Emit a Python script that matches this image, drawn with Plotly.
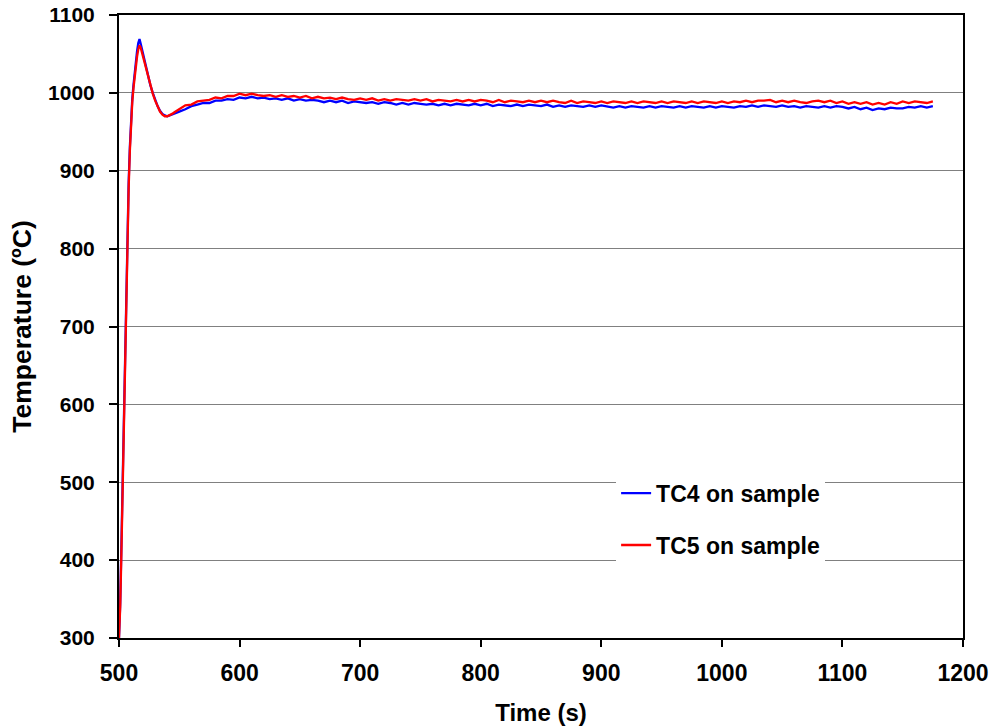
import plotly.graph_objects as go

time_s = [500, 501, 502, 503, 504, 505, 506, 507, 508, 509, 510, 511, 512, 513, 514, 515, 516, 517, 518, 519,
          520, 521, 522, 524, 526, 528, 530, 532, 534, 536, 538, 540, 542, 544, 546, 548, 550,
          555, 560, 565, 570, 575, 580, 585, 590, 595, 600, 605, 610, 615, 620, 625, 630, 635, 640, 645, 650,
          655, 660, 665, 670, 675, 680, 685, 690, 695, 700, 705, 710, 715, 720, 725, 730, 735, 740, 745, 750,
          755, 760, 765, 770, 775, 780, 785, 790, 795, 800, 805, 810, 815, 820, 825, 830, 835, 840, 845, 850,
          855, 860, 865, 870, 875, 880, 885, 890, 895, 900, 905, 910, 915, 920, 925, 930, 935, 940, 945, 950,
          955, 960, 965, 970, 975, 980, 985, 990, 995, 1000, 1005, 1010, 1015, 1020, 1025, 1030, 1035, 1040,
          1045, 1050, 1055, 1060, 1065, 1070, 1075, 1080, 1085, 1090, 1095, 1100, 1105, 1110, 1115, 1120,
          1125, 1130, 1135, 1140, 1145, 1150, 1155, 1160, 1165, 1170, 1175]

tc4 = [300, 345, 420, 500, 590, 680, 760, 830, 885, 930, 968, 992, 1010, 1026, 1041, 1054, 1064, 1069, 1063, 1056,
       1049, 1042, 1035, 1022, 1010, 1000, 991, 983, 977, 973, 971, 970, 971, 972, 973, 975, 976,
       979, 983, 985, 987, 987, 990, 990, 992, 991, 994, 993, 995, 993, 994, 992, 993, 991, 993, 990, 992,
       990, 991, 990, 988, 990, 988, 990, 987, 989, 988, 987, 988, 986, 988, 987, 985, 987, 985, 987, 986,
       985, 986, 984, 986, 984, 986, 985, 984, 986, 984, 986, 983, 985, 984, 983, 985, 983, 985, 984, 983,
       985, 982, 984, 982, 984, 983, 982, 984, 982, 984, 982, 981, 983, 981, 983, 982, 981, 983, 981, 983,
       982, 981, 983, 981, 983, 982, 981, 983, 981, 983, 982, 981, 983, 982, 984, 982, 984, 983,
       982, 984, 982, 983, 981, 983, 982, 981, 983, 981, 983, 982, 980, 982, 979, 981,
       978, 980, 979, 981, 980, 980, 982, 981, 983, 981, 983]

tc5 = [300, 340, 410, 490, 580, 670, 750, 820, 878, 925, 962, 988, 1006, 1021, 1035, 1047, 1056, 1061, 1058, 1052,
       1046, 1040, 1034, 1021, 1009, 999, 990, 982, 976, 972, 970, 970, 971, 973, 975, 977, 979,
       984, 985, 989, 990, 991, 994, 993, 996, 996, 999, 997, 999, 997, 996, 997, 995, 997, 995, 996, 994,
       996, 993, 995, 993, 994, 992, 994, 992, 991, 993, 991, 993, 990, 992, 990, 992, 991, 990, 992, 990,
       992, 989, 991, 990, 989, 991, 989, 991, 989, 991, 990, 988, 991, 988, 990, 989, 988, 990, 988, 990,
       988, 990, 988, 987, 990, 987, 989, 988, 987, 989, 987, 989, 988, 987, 989, 987, 989, 988, 987, 989,
       987, 989, 988, 987, 989, 987, 989, 988, 987, 989, 987, 989, 988, 990, 988, 990, 990, 991,
       988, 990, 988, 990, 988, 987, 989, 990, 988, 990, 987, 989, 986, 988, 986, 988,
       985, 987, 985, 988, 986, 989, 987, 989, 988, 987, 989]

series_names = ["TC4 on sample", "TC5 on sample"]
x_ticks = [500, 600, 700, 800, 900, 1000, 1100, 1200]
y_ticks = [300, 400, 500, 600, 700, 800, 900, 1000, 1100]

FONT = "Liberation Sans, Arial, sans-serif"

fig = go.Figure()
fig.add_trace(go.Scatter(x=time_s, y=tc4, mode="lines", name=series_names[0],
                         line=dict(color="#0000FF", width=2.3), legendgroup="a"))
fig.add_trace(go.Scatter(x=time_s, y=tc5, mode="lines", name=series_names[1],
                         line=dict(color="#FF0000", width=2.3), legendgroup="b"))

fig.update_layout(
    width=992, height=727,
    margin=dict(l=119, r=29, t=15, b=89, autoexpand=False),
    paper_bgcolor="white", plot_bgcolor="white",
    font=dict(family=FONT, color="black"),
    legend=dict(x=0.589, y=0.267, xanchor="left", yanchor="top",
                bgcolor="white", borderwidth=0, tracegroupgap=19,
                font=dict(family=FONT, size=23, color="black", weight="bold")),
    xaxis=dict(range=[500, 1200], tickvals=x_ticks, showgrid=False, zeroline=False,
               showline=True, linecolor="black", linewidth=2, mirror=True, automargin=False,
               ticks="outside", ticklen=7, tickwidth=2, tickcolor="black",
               ticklabelstandoff=6, ticklabeloverflow="allow",
               tickfont=dict(family=FONT, size=23, color="black", weight="bold"),
               title=dict(text="Time (s)", standoff=20,
                          font=dict(family=FONT, size=24, color="black", weight="bold"))),
    yaxis=dict(range=[300, 1100], tickvals=y_ticks, showgrid=True, gridcolor="#808080", gridwidth=1,
               zeroline=False, showline=True, linecolor="black", linewidth=2, mirror=True, automargin=False,
               ticks="outside", ticklen=8, tickwidth=2, tickcolor="black",
               ticklabelstandoff=10, ticklabeloverflow="allow",
               tickfont=dict(family=FONT, size=21, color="black", weight="bold"),
               title=dict(text="Temperature (ºC)", standoff=9,
                          font=dict(family=FONT, size=26.5, color="black", weight="bold"))),
)

# remove the browser's default 8px page margin so the 992x727 figure fills the window exactly
fig.write_html("out.html", config={"displayModeBar": False},
               post_script="document.body.style.margin='0px';")
